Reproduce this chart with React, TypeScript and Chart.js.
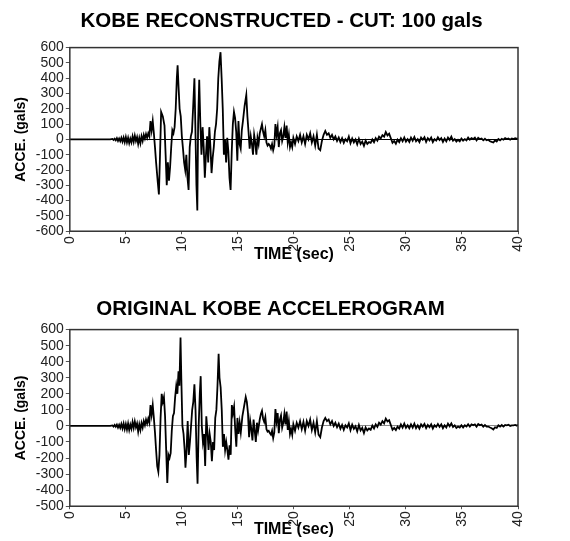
import React, { useEffect, useRef } from "react";
import { Chart, registerables } from "chart.js";

Chart.register(...registerables);

// ---------- DATA ----------
const TITLE_TOP = "KOBE RECONSTRUCTED - CUT: 100 gals";
const TITLE_BOTTOM = "ORIGINAL KOBE ACCELEROGRAM";
const X_TITLE = "TIME (sec)";
const Y_TITLE = "ACCE. (gals)";

const TIME_RECON = [
  0, 3.5, 3.6, 3.8, 3.9, 4.0, 4.1, 4.2, 4.3, 4.4, 4.5, 4.6, 4.7, 4.8, 4.9, 5.0, 5.1, 5.2, 5.3, 5.4, 5.5, 5.6, 5.7, 5.8, 5.9,
  6.0, 6.1, 6.2, 6.3, 6.4, 6.5, 6.6, 6.7, 6.8, 6.9, 7.0, 7.1, 7.2, 7.3, 7.4, 7.5, 7.6, 7.7, 7.85, 7.95, 8.05, 8.15, 8.3,
  8.45, 8.55, 8.65, 8.75, 8.85, 8.95, 9.05, 9.15, 9.25, 9.35, 9.45, 9.55, 9.62, 9.7, 9.8, 9.9, 10.0, 10.1, 10.2, 10.3,
  10.4, 10.5, 10.6, 10.7, 10.8, 10.9, 11.0, 11.12, 11.2, 11.3, 11.38, 11.45, 11.55, 11.65, 11.75, 11.85, 11.95, 12.05,
  12.15, 12.25, 12.35, 12.45, 12.55, 12.65, 12.75, 12.85, 12.95, 13.05, 13.15, 13.25, 13.35, 13.45, 13.55, 13.65, 13.75,
  13.85, 13.95, 14.05, 14.15, 14.25, 14.35, 14.45, 14.55, 14.65, 14.75, 14.85, 14.95, 15.05, 15.15, 15.25, 15.35, 15.45,
  15.6, 15.75, 15.85, 15.95, 16.05, 16.15, 16.25, 16.35, 16.45, 16.55, 16.65, 16.75, 16.85, 16.95, 17.05, 17.15, 17.25,
  17.35, 17.45, 17.55, 17.65, 17.75, 17.85, 17.95, 18.05, 18.15, 18.25, 18.35, 18.45, 18.55, 18.65, 18.75, 18.85, 18.95,
  19.05, 19.15, 19.25, 19.35, 19.45, 19.55, 19.65, 19.75, 19.85, 19.95, 20.1, 20.25, 20.4, 20.55, 20.7, 20.85, 21.0,
  21.15, 21.3, 21.45, 21.6, 21.75, 21.9, 22.05, 22.2, 22.35, 22.5, 22.65, 22.8, 22.95, 23.1, 23.25, 23.4, 23.55, 23.7,
  23.85, 24.0, 24.15, 24.3, 24.45, 24.6, 24.75, 24.9, 25.05, 25.2, 25.35, 25.5, 25.65, 25.8, 25.95, 26.1, 26.25, 26.4,
  26.55, 26.7, 26.85, 27.0, 27.15, 27.3, 27.45, 27.6, 27.75, 27.9, 28.05, 28.2, 28.35, 28.5, 28.65, 28.8, 28.95, 29.1,
  29.25, 29.4, 29.55, 29.7, 29.85, 30.0, 30.15, 30.3, 30.45, 30.6, 30.75, 30.9, 31.05, 31.2, 31.35, 31.5, 31.65, 31.8,
  31.95, 32.1, 32.25, 32.4, 32.55, 32.7, 32.85, 33.0, 33.15, 33.3, 33.45, 33.6, 33.75, 33.9, 34.05, 34.2, 34.35, 34.5,
  34.65, 34.8, 34.95, 35.1, 35.25, 35.4, 35.55, 35.7, 35.85, 36.0, 36.15, 36.3, 36.45, 36.6, 36.75, 36.9, 37.05, 37.2,
  37.35, 37.5, 37.65, 37.8, 37.95, 38.1, 38.25, 38.4, 38.55, 38.7, 38.85, 39.0, 39.15, 39.3, 39.45, 39.6, 39.75, 39.9, 40,
];
const ACC_RECON = [
  0, 0, 0, 3, -4, 5, -6, 8, -10, 6, -12, 10, -15, 12, -18, 15, -20, 10, -25, 5, -20, 20, -15, 25, -10,
  15, -30, 10, -25, 20, -10, 30, 5, 35, 10, 40, 20, 120, 60, 120, 40, -50, -150, -280, -360, -100, 180, 150,
  90, -100, -300, -150, -270, -180, -50, 60, 40, 80, 200, 400, 485, 350, 200, 150, 20, -60, -150, -200,
  -100, -250, -330, -50, 20, 50, 200, 400, 100, -300, -465, 100, 390, 100, -100, 80, -50, -250,
  -100, 20, -150, 80, -50, -220, -120, -50, 50, 100, 200, 400, 510, 570, 400, 200, -100,
  0, -150, 10, -80, -250, -330, -80, 100, 180, 140, 50, -140, 120, -30, -60, 60, 120,
  220, 290, 150, 50, -60, 20, -30, -100, 30, -20, -100, 10, -30, 40, 70, 100, 50,
  20, 60, -20, -40, -30, -40, -60, -30, -70, -40, 100, 30, 80, -50, 40, 60, -10,
  20, 80, 10, 90, -20, 30, -50, -20, -50, 10, -30, 20, -10, 30, -20, 20, -30,
  30, 0, 40, -20, 20, -40, 30, -60, -70, -10, 30, 55, 30, 40, 10, 30, 0, 20,
  -10, 12, -18, 8, -22, 2, -12, 18, -25, 6, -20, 0, -32, 4, -30, -14, -42, -8,
  -30, -18, -22, 0, -18, 8, -8, 18, 6, 28, 18, 48, 26, 38, 8, -22, -10, -28,
  -2, -18, 8, -12, 12, -14, 2, -16, 12, -8, 16, -12, 2, -18, 12, -2, 14, -16,
  8, -6, 12, -18, 2, -8, 14, -4, 8, -16, 6, -12, 12, -4, 18, -8, 2, -14,
  -2, -12, 6, -8, 2, -6, 12, -2, 8, 2, 12, -6, 10, 2, 6, -6, 4, -6,
  -2, -12, -16, -20, -6, -14, 2, -6, 4, -2, 8, 2, 6, -2, 6, 2, 8, 4, 8,
];

const TIME_ORIG = [
  0, 3.5, 3.6, 3.8, 3.9, 4.0, 4.1, 4.2, 4.3, 4.4, 4.5, 4.6, 4.7, 4.8, 4.9, 5.0, 5.1, 5.2, 5.3, 5.4, 5.5, 5.6, 5.7, 5.8, 5.9,
  6.0, 6.1, 6.2, 6.3, 6.4, 6.5, 6.6, 6.7, 6.8, 6.9, 7.0, 7.1, 7.2, 7.3, 7.4, 7.5, 7.6, 7.7, 7.8, 7.9, 8.0, 8.1, 8.2, 8.3,
  8.4, 8.5, 8.6, 8.7, 8.8, 8.9, 9.0, 9.1, 9.2, 9.3, 9.4, 9.5, 9.6, 9.7, 9.78, 9.88, 9.95, 10.05, 10.15, 10.25, 10.32,
  10.42, 10.52, 10.62, 10.72, 10.82, 10.92, 11.02, 11.12, 11.22, 11.32, 11.4, 11.5, 11.6, 11.68, 11.78, 11.88, 11.98,
  12.08, 12.18, 12.28, 12.38, 12.48, 12.58, 12.68, 12.78, 12.88, 12.98, 13.08, 13.18, 13.28, 13.36, 13.46, 13.56, 13.66,
  13.76, 13.86, 13.96, 14.06, 14.16, 14.26, 14.36, 14.46, 14.56, 14.66, 14.76, 14.86, 14.96, 15.06, 15.16, 15.26, 15.4,
  15.55, 15.7, 15.8, 15.9, 16.0, 16.1, 16.2, 16.3, 16.4, 16.5, 16.6, 16.7, 16.8, 16.95, 17.05, 17.15, 17.25,
  17.35, 17.45, 17.55, 17.65, 17.75, 17.85, 17.95, 18.05, 18.15, 18.25, 18.35, 18.45, 18.55, 18.65, 18.75, 18.85, 18.95,
  19.05, 19.15, 19.25, 19.35, 19.45, 19.55, 19.65, 19.75, 19.85, 19.95, 20.1, 20.25, 20.4, 20.55, 20.7, 20.85, 21.0,
  21.15, 21.3, 21.45, 21.6, 21.75, 21.9, 22.05, 22.2, 22.35, 22.5, 22.65, 22.8, 22.95, 23.1, 23.25, 23.4, 23.55, 23.7,
  23.85, 24.0, 24.15, 24.3, 24.45, 24.6, 24.75, 24.9, 25.05, 25.2, 25.35, 25.5, 25.65, 25.8, 25.95, 26.1, 26.25, 26.4,
  26.55, 26.7, 26.85, 27.0, 27.15, 27.3, 27.45, 27.6, 27.75, 27.9, 28.05, 28.2, 28.35, 28.5, 28.65, 28.8, 28.95, 29.1,
  29.25, 29.4, 29.55, 29.7, 29.85, 30.0, 30.15, 30.3, 30.45, 30.6, 30.75, 30.9, 31.05, 31.2, 31.35, 31.5, 31.65, 31.8,
  31.95, 32.1, 32.25, 32.4, 32.55, 32.7, 32.85, 33.0, 33.15, 33.3, 33.45, 33.6, 33.75, 33.9, 34.05, 34.2, 34.35, 34.5,
  34.65, 34.8, 34.95, 35.1, 35.25, 35.4, 35.55, 35.7, 35.85, 36.0, 36.15, 36.3, 36.45, 36.6, 36.75, 36.9, 37.05, 37.2,
  37.35, 37.5, 37.65, 37.8, 37.95, 38.1, 38.25, 38.4, 38.55, 38.7, 38.85, 39.0, 39.15, 39.3, 39.45, 39.6, 39.75, 39.9, 40,
];
const ACC_ORIG = [
  0, 0, 0, 3, -4, 6, -5, 8, -10, 7, -12, 12, -15, 15, -20, 12, -22, 15, -25, 8, -18, 25, -12, 28, -8,
  15, -35, 10, -25, 18, -10, 30, 5, 40, 15, 45, 20, 130, 70, 130, 50, -40, -150, -250, -285, -180, 50, 200, 150,
  180, 60, -150, -355, -180, -200, -170, -30, 60, 80, 180, 250, 200, 340, 250, 550, 300, 0, -50, -150, -260,
  -150, 30, -180, -100, 0, 100, 150, 260, 100, -200, -360, 0, 200, 310, 0, -100, -50,
  -250, 60, -30, -150, -50, -100, -220, -100, -150, 50, 100, 250, 450, 300, 240, 100, -130,
  -50, -150, -100, -150, -210, -120, -180, 130, 80, 120, -20, -130, 50, -50, 20, -40, 60,
  120, 180, 150, 80, -70, 30, -20, -90, 40, -30, -100, 20, -30, 40, 75, 95, 45,
  25, 55, -20, -35, -30, -45, -55, -30, -75, -40, 105, 30, 80, -45, 40, 65, -10,
  20, 75, 10, 90, -25, 30, -50, -20, -55, 10, -30, 20, -10, 30, -20, 25, -30,
  30, 0, 40, -25, 20, -40, 30, -55, -70, -10, 30, 50, 30, 40, 10, 30, 0, 20,
  -8, 14, -18, 6, -24, 4, -10, 16, -26, 8, -18, -2, -34, 6, -28, -12, -44, -10,
  -28, -16, -24, 2, -16, 10, -6, 20, 8, 30, 16, 46, 28, 36, 6, -24, -12, -26,
  -4, -16, 10, -10, 14, -12, 4, -14, 10, -10, 14, -14, 4, -16, 10, -4, 12, -14,
  6, -8, 10, -16, 4, -6, 12, -6, 10, -14, 4, -10, 14, -2, 16, -6, 4, -12,
  -4, -10, 4, -10, 4, -4, 10, -4, 10, 4, 10, -4, 12, 4, 8, -4, 6, -4,
  -4, -10, -14, -22, -8, -12, 4, -4, 6, -4, 6, 4, 8, 0, 4, 4, 6, 2, 8,
];

const X_MIN = 0;
const X_MAX = 40;
const X_STEP = 5;
const Y_STEP = 100;
const Y_RANGE_TOP = [-600, 600];
const Y_RANGE_BOTTOM = [-500, 600];

// ---------- CHART ----------
const FONT = "'Liberation Sans', Arial, sans-serif";

const frame = {
  id: "frame",
  afterDatasetsDraw(chart: any) {
    const { ctx, chartArea: a } = chart;
    ctx.save();
    ctx.strokeStyle = "#333";
    ctx.lineWidth = 1.5;
    ctx.strokeRect(a.left, a.top, a.right - a.left, a.bottom - a.top);
    ctx.restore();
  },
};

function titleShift(dx: number) {
  return {
    id: "titleShift",
    afterLayout(chart: any) {
      const tb = chart.titleBlock;
      if (tb) {
        tb.left += dx;
        tb.right += dx;
      }
    },
  };
}

function makeConfig(
  title: string,
  time: number[],
  acc: number[],
  yr: number[],
  zeroColor: string,
  padTop: number,
  titleGap: number,
  padBottom: number,
  dx: number
): any {
  return {
    type: "line",
    data: {
      datasets: [
        {
          data: time.map((t, i) => ({ x: t, y: acc[i] })),
          borderColor: "#000",
          borderWidth: 1.8,
          pointRadius: 0,
          tension: 0,
          fill: false,
        },
      ],
    },
    options: {
      responsive: false,
      animation: false,
      layout: { padding: { left: 13, right: 52, top: 0, bottom: padBottom } },
      plugins: {
        legend: { display: false },
        tooltip: { enabled: false },
        title: {
          display: true,
          text: title,
          color: "#000",
          font: { family: FONT, size: 20.5, weight: "bold" },
          padding: { top: padTop, bottom: titleGap },
        },
      },
      scales: {
        x: {
          type: "linear",
          min: X_MIN,
          max: X_MAX,
          border: { display: false },
          grid: { color: "transparent", drawTicks: true, tickLength: 3, tickColor: "#555" },
          ticks: {
            stepSize: X_STEP,
            autoSkip: false,
            minRotation: 90,
            maxRotation: 90,
            color: "#222",
            padding: 2,
            font: { family: FONT, size: 14 },
          },
          title: {
            display: true,
            text: X_TITLE,
            color: "#000",
            font: { family: FONT, size: 16, weight: "bold" },
            padding: { top: -9, bottom: 0 },
          },
        },
        y: {
          min: yr[0],
          max: yr[1],
          border: { display: false },
          grid: {
            color: (c: any) => (c.tick && c.tick.value === 0 ? zeroColor : "transparent"),
            lineWidth: 1,
            drawTicks: true,
            tickLength: 4,
            tickColor: "#555",
          },
          ticks: {
            stepSize: Y_STEP,
            autoSkip: false,
            color: "#222",
            padding: 2,
            font: { family: FONT, size: 14 },
          },
          title: {
            display: true,
            text: Y_TITLE,
            color: "#000",
            font: { family: FONT, size: 14, weight: "bold" },
            padding: { top: 0, bottom: 4 },
          },
        },
      },
    },
    plugins: [frame, titleShift(dx)],
  };
}

function ChartCanvas({ cfg, height }: { cfg: any; height: number }) {
  const ref = useRef<HTMLCanvasElement | null>(null);
  useEffect(() => {
    if (!ref.current) return;
    const chart = new Chart(ref.current, cfg);
    return () => chart.destroy();
  }, [cfg]);
  return <canvas ref={ref} width={570} height={height} style={{ display: "block", width: 570, height }} />;
}

const CFG_TOP = makeConfig(TITLE_TOP, TIME_RECON, ACC_RECON, Y_RANGE_TOP, "#000", 9, 14, 6, 16);
const CFG_BOTTOM = makeConfig(TITLE_BOTTOM, TIME_ORIG, ACC_ORIG, Y_RANGE_BOTTOM, "#888", 27, 8, 2, 5);

export default function App() {
  return (
    <div style={{ position: "absolute", top: 0, left: 0, width: 570, height: 541, background: "#fff" }}>
      <ChartCanvas cfg={CFG_TOP} height={270} />
      <ChartCanvas cfg={CFG_BOTTOM} height={271} />
    </div>
  );
}
